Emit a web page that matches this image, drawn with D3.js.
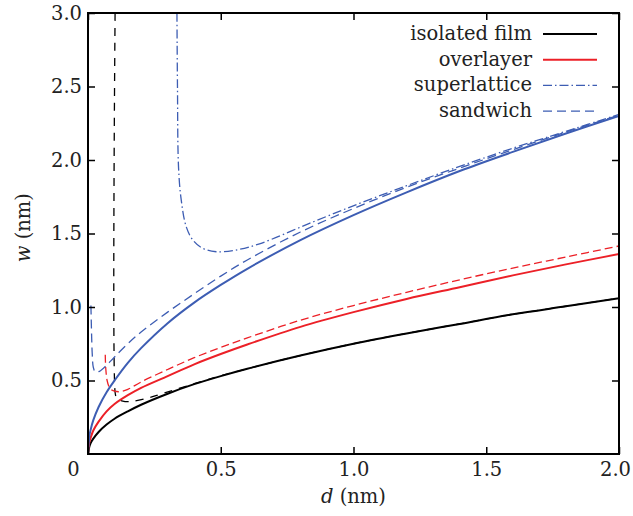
<!DOCTYPE html>
<html>
<head>
<meta charset="utf-8">
<script src="https://cdn.jsdelivr.net/npm/d3@7"></script>
<style>
  body { margin: 0; background: #fff; }
</style>
</head>
<body>
<div id="chart"></div>
<script>
// values (d in nm, w in nm)
var dSolid = [0, 0.005, 0.01, 0.02, 0.04, 0.07, 0.1, 0.15, 0.2, 0.3, 0.4, 0.5, 0.6, 0.8, 1.0, 1.2, 1.4, 1.6, 1.8, 2.0];
var wIsolated = [0, 0.05, 0.075, 0.105, 0.15, 0.2, 0.24, 0.29, 0.335, 0.41, 0.475, 0.53, 0.58, 0.67, 0.75, 0.82, 0.885, 0.95, 1.005, 1.06];
var wOverlayer = [0, 0.08, 0.11, 0.16, 0.22, 0.29, 0.34, 0.4, 0.45, 0.53, 0.61, 0.68, 0.745, 0.865, 0.965, 1.055, 1.135, 1.215, 1.29, 1.36];
var wBlueSolid = [0, 0.12, 0.165, 0.23, 0.32, 0.42, 0.5, 0.62, 0.72, 0.89, 1.03, 1.15, 1.26, 1.455, 1.625, 1.78, 1.925, 2.055, 2.18, 2.3];

var dSuper = [0.335, 0.337, 0.341, 0.351, 0.37, 0.395, 0.432, 0.483, 0.55, 0.646, 0.834, 1.023, 1.2, 1.362, 1.6, 1.8, 2.0];
var wSuper = [3.0, 2.5, 1.95, 1.73, 1.546, 1.456, 1.399, 1.376, 1.385, 1.43, 1.569, 1.705, 1.825, 1.932, 2.08, 2.195, 2.31];

var dSandwich = [0.011, 0.013, 0.016, 0.02, 0.027, 0.04, 0.065, 0.1, 0.15, 0.2, 0.3, 0.4, 0.5, 0.6, 0.8, 1.0, 1.2, 1.4, 1.6, 1.8, 2.0];
var wSandwich = [1.01, 0.85, 0.68, 0.59, 0.56, 0.56, 0.595, 0.66, 0.75, 0.83, 0.965, 1.09, 1.21, 1.32, 1.51, 1.67, 1.815, 1.945, 2.07, 2.19, 2.305];

var dRedDash = [0.065, 0.067, 0.072, 0.08, 0.09, 0.1, 0.12, 0.15, 0.2, 0.3, 0.4, 0.5, 0.6, 0.8, 1.0, 1.2, 1.4, 1.6, 1.8, 2.0];
var wRedDash = [0.675, 0.58, 0.5, 0.455, 0.435, 0.427, 0.424, 0.44, 0.49, 0.575, 0.655, 0.725, 0.79, 0.91, 1.01, 1.1, 1.185, 1.265, 1.34, 1.415];

var dBlackDash = [0.102, 0.102, 0.106, 0.115, 0.127, 0.159, 0.222, 0.284, 0.4, 0.5, 0.6, 0.8, 1.0, 1.2, 1.4, 1.6, 1.8, 2.0];
var wBlackDash = [3.0, 0.42, 0.39, 0.372, 0.362, 0.356, 0.379, 0.413, 0.478, 0.532, 0.58, 0.67, 0.75, 0.82, 0.885, 0.95, 1.005, 1.06];

var xTicks = [0, 0.5, 1.0, 1.5, 2.0];
var yTicks = [0.5, 1.0, 1.5, 2.0, 2.5, 3.0];
var legendNames = ["isolated film", "overlayer", "superlattice", "sandwich"];

var width = 633, height = 516;
var margin = {top: 13, right: 14, bottom: 62, left: 88};
var blue = "#3d5db3", red = "#ec2027";
var serif = "DejaVu Serif";
var fontSize = 19.5;

var svg = d3.select("#chart").append("svg")
    .attr("width", width)
    .attr("height", height);

var x = d3.scaleLinear().domain([0, 2]).range([margin.left, width - margin.right]);
var y = d3.scaleLinear().domain([0, 3]).range([height - margin.bottom, margin.top]);

svg.append("clipPath").attr("id", "plot")
    .append("rect")
    .attr("x", x(0)).attr("y", y(3))
    .attr("width", x(2) - x(0)).attr("height", y(0) - y(3));

var line = d3.line()
    .x(function(p) { return x(p[0]); })
    .y(function(p) { return y(p[1]); })
    .curve(d3.curveCatmullRom.alpha(0.5));

var series = [
    {d: dBlackDash, w: wBlackDash, color: "#000", width: 1.3, dash: "8,7"},
    {d: dRedDash, w: wRedDash, color: red, width: 1.3, dash: "8,4"},
    {d: dSandwich, w: wSandwich, color: blue, width: 1.3, dash: "9,5"},
    {d: dSuper, w: wSuper, color: blue, width: 1.3, dash: "9,3,1.5,3"},
    {d: dSolid, w: wIsolated, color: "#000", width: 2, dash: null},
    {d: dSolid, w: wOverlayer, color: red, width: 2, dash: null},
    {d: dSolid, w: wBlueSolid, color: blue, width: 2, dash: null}
];

var curves = svg.append("g").attr("clip-path", "url(#plot)");
series.forEach(function(s) {
    curves.append("path")
        .datum(s.d.map(function(d, i) { return [d, s.w[i]]; }))
        .attr("fill", "none")
        .attr("stroke", s.color)
        .attr("stroke-width", s.width)
        .attr("stroke-dasharray", s.dash)
        .attr("d", line);
});

// axes, ticks pointing inward on all four sides
var fmt = d3.format(".1f");
var xAxis = svg.append("g")
    .attr("transform", "translate(0," + y(0) + ")")
    .call(d3.axisBottom(x).tickValues(xTicks).tickSizeInner(-7).tickSizeOuter(0).tickPadding(8)
        .tickFormat(function(d) { return d === 0 ? "0" : fmt(d); }));
// origin label sits left of the corner, last label kept inside the page
xAxis.selectAll(".tick text").filter(function(d) { return d === 0; }).attr("x", -15);
xAxis.selectAll(".tick text").filter(function(d) { return d === 2; }).attr("x", -4);

svg.append("g")
    .attr("transform", "translate(" + x(0) + ",0)")
    .call(d3.axisLeft(y).tickValues(yTicks).tickSizeInner(-7).tickSizeOuter(0).tickPadding(6).tickFormat(fmt));

svg.append("g")
    .attr("transform", "translate(0," + y(3) + ")")
    .call(d3.axisTop(x).tickValues(xTicks).tickSizeInner(-7).tickSizeOuter(0).tickFormat(""));

svg.append("g")
    .attr("transform", "translate(" + x(2) + ",0)")
    .call(d3.axisRight(y).tickValues(yTicks).tickSizeInner(-7).tickSizeOuter(0).tickFormat(""));

svg.selectAll(".domain").remove();
svg.selectAll(".tick line").attr("stroke", "#000").attr("stroke-width", 1.5);
svg.selectAll(".tick text").attr("font-size", fontSize).attr("font-family", serif).attr("fill", "#222");

svg.append("rect")
    .attr("x", x(0)).attr("y", y(3))
    .attr("width", x(2) - x(0)).attr("height", y(0) - y(3))
    .attr("fill", "none").attr("stroke", "#000").attr("stroke-width", 2);

// axis titles
var xt = svg.append("text").attr("x", x(1)).attr("y", 503)
    .attr("text-anchor", "middle").attr("font-size", fontSize).attr("font-family", serif).attr("fill", "#222");
xt.append("tspan").attr("font-style", "italic").text("d");
xt.append("tspan").text(" (nm)");

var yt = svg.append("text").attr("transform", "translate(30," + y(1.54) + ") rotate(-90)")
    .attr("text-anchor", "middle").attr("font-size", fontSize).attr("font-family", serif).attr("fill", "#222");
yt.append("tspan").attr("font-style", "italic").text("w");
yt.append("tspan").text(" (nm)");

// legend
var legendStyles = [series[4], series[5], series[3], series[2]];
var legend = svg.append("g");
legendNames.forEach(function(name, i) {
    var ly = 34 + i * 25.7;
    legend.append("text")
        .attr("x", 532).attr("y", ly + 6)
        .attr("text-anchor", "end")
        .attr("font-size", fontSize)
        .attr("font-family", serif)
        .attr("fill", "#222")
        .text(name);
    legend.append("line")
        .attr("x1", 543).attr("x2", 597)
        .attr("y1", ly).attr("y2", ly)
        .attr("stroke", legendStyles[i].color)
        .attr("stroke-width", legendStyles[i].width)
        .attr("stroke-dasharray", legendStyles[i].dash);
});
</script>
</body>
</html>
